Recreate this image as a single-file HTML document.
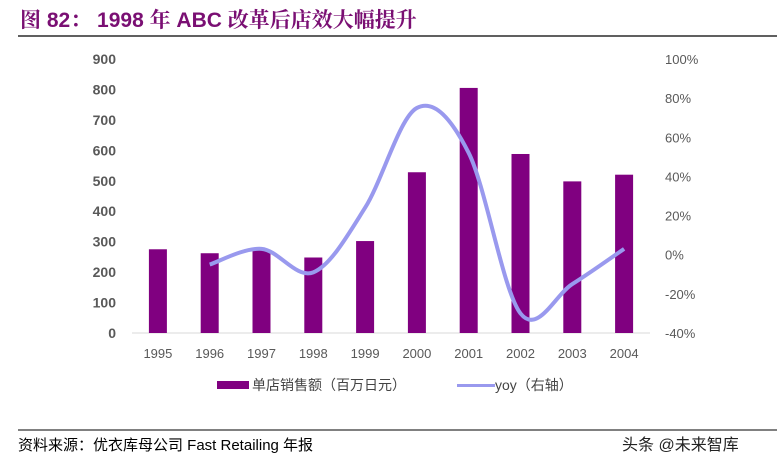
<!DOCTYPE html>
<html><head><meta charset="utf-8"><style>
body{margin:0;background:#fff;width:777px;height:468px;overflow:hidden;font-family:"Liberation Sans","Noto Sans CJK SC",sans-serif}
</style></head><body>
<svg width="777" height="468" viewBox="0 0 777 468" xmlns="http://www.w3.org/2000/svg">
<text x="20" y="27" font-size="21" font-weight="bold" fill="#7a0f73" font-family="Liberation Sans,Noto Serif CJK SC,serif">图 82： 1998 年 ABC 改革后店效大幅提升</text>
<line x1="18" y1="36" x2="777" y2="36" stroke="#000" stroke-width="1.2"/>
<g id="axes"></g>
<g id="bars"></g>
<path id="yoy" fill="none" stroke="#9999ee" stroke-width="4"/>
<g>
<rect x="217" y="381" width="32" height="8" fill="#800080"/>
<text x="252" y="390" font-size="14" fill="#444">单店销售额（百万日元）</text>
<rect x="457" y="384" width="38" height="3" fill="#9999ee"/>
<text x="495" y="390" font-size="14" fill="#444">yoy（右轴）</text>
</g>
<line x1="18" y1="430" x2="777" y2="430" stroke="#000" stroke-width="1"/>
<text x="18" y="450" font-size="15" fill="#000">资料来源：优衣库母公司 Fast Retailing 年报</text>
<text x="622" y="450" font-size="16" fill="#222">头条 @未来智库</text>
</svg>
<script>
const categories=["1995","1996","1997","1998","1999","2000","2001","2002","2003","2004"];
const sales=[275,262,272,248,302,528,805,588,498,520];
const yoy=[null,-5,3,-9,24,75,52,-30,-15,3];
const leftTicks=[0,100,200,300,400,500,600,700,800,900];
const rightTicks=[-40,-20,0,20,40,60,80,100];
const NS="http://www.w3.org/2000/svg";
const plotTop=59,plotBot=333,x0=132,x1=650;
const yL=v=>plotBot-(v/900)*(plotBot-plotTop);
const yR=v=>plotBot-((v+40)/140)*(plotBot-plotTop);
const step=(x1-x0)/categories.length;
const xC=i=>x0+step*(i+0.5);
function mk(t,a,txt){const e=document.createElementNS(NS,t);for(const k in a)e.setAttribute(k,a[k]);if(txt!=null)e.textContent=txt;return e;}
const axes=document.getElementById('axes'),bars=document.getElementById('bars');
const base=mk('line',{x1:x0,y1:plotBot,x2:x1,y2:plotBot,stroke:'#d9d9d9','stroke-width':1});


axes.appendChild(base);
leftTicks.forEach(v=>{const t=mk('text',{x:116,y:yL(v)+5,'text-anchor':'end','font-size':14,'font-weight':'bold',fill:'#595959'},v);


axes.appendChild(t);});
rightTicks.forEach(v=>{const t=mk('text',{x:665,y:yR(v)+5,'font-size':13,fill:'#595959'},v+'%');


axes.appendChild(t);});
categories.forEach((c,i)=>{const t=mk('text',{x:xC(i),y:358,'text-anchor':'middle','font-size':13,fill:'#595959'},c);


axes.appendChild(t);
const r=mk('rect',{x:xC(i)-9,y:yL(sales[i]),width:18,height:plotBot-yL(sales[i]),fill:'#800080'});


bars.appendChild(r);});
const pts=[];yoy.forEach((v,i)=>{if(v!=null)pts.push([xC(i),yR(v)]);});
let d='M'+pts[0][0]+','+pts[0][1];
for(let i=0;i<pts.length-1;i++){const p0=pts[Math.max(0,i-1)],p1=pts[i],p2=pts[i+1],p3=pts[Math.min(pts.length-1,i+2)];
const c1=[p1[0]+(p2[0]-p0[0])/6,p1[1]+(p2[1]-p0[1])/6],c2=[p2[0]-(p3[0]-p1[0])/6,p2[1]-(p3[1]-p1[1])/6];
d+=' C'+c1+' '+c2+' '+p2;}
document.getElementById('yoy').setAttribute('d',d);
</script>
</body></html>
